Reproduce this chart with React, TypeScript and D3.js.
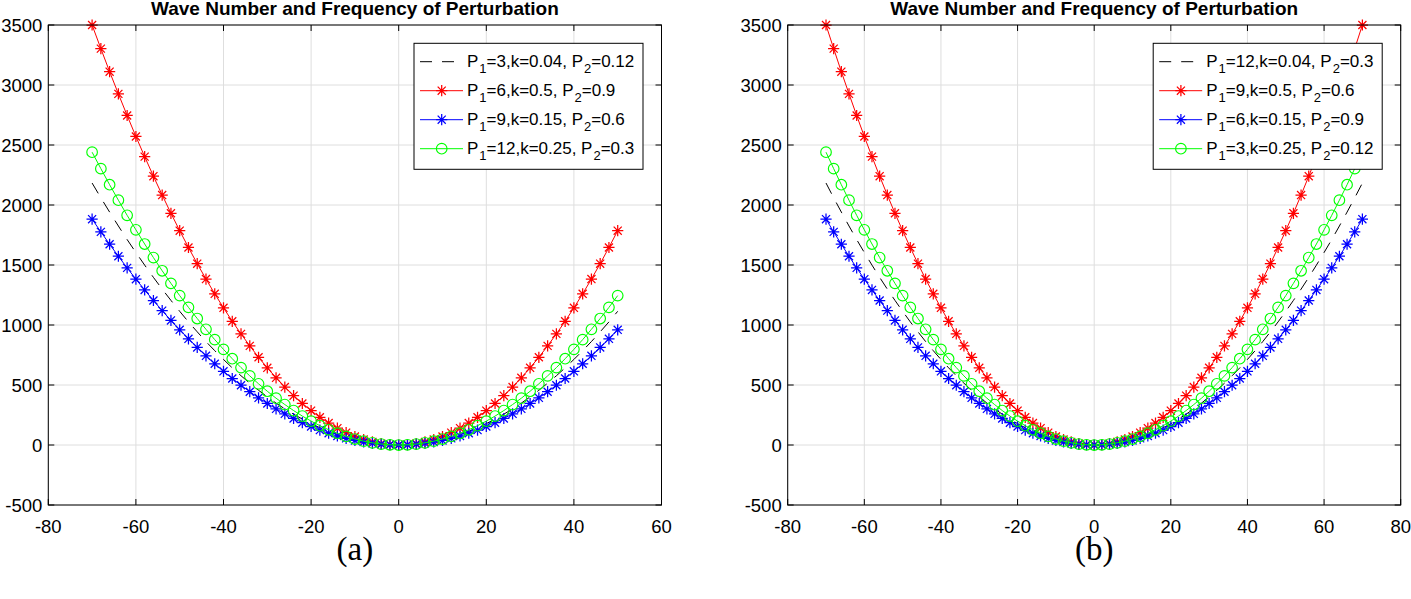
import React from "react";
import * as d3 from "d3";

// wave number k (x-axis)
const waveNumbers = [
  -70, -68, -66, -64, -62, -60, -58, -56, -54, -52, -50, -48, -46, -44, -42, -40, -38, -36,
  -34, -32, -30, -28, -26, -24, -22, -20, -18, -16, -14, -12, -10, -8, -6, -4, -2, 0,
  2, 4, 6, 8, 10, 12, 14, 16, 18, 20, 22, 24, 26, 28, 30, 32, 34, 36, 38, 40, 42, 44,
  46, 48, 50, 52, 54, 56, 58, 60, 62, 64, 66, 68, 70,
];

// frequency values
const blackSeries = [
  2183, 2060, 1941, 1825, 1712, 1604, 1499, 1397, 1299, 1205, 1114, 1026, 943, 862, 786, 713, 643, 577,
  515, 456, 401, 349, 301, 257, 216, 178, 144, 114, 87, 64, 45, 29, 16, 7, 2, 0,
  2, 7, 16, 29, 45, 64, 87, 114, 144, 178, 216, 257, 301, 349, 401, 456, 515, 577, 643, 713, 786, 862,
  943, 1026, 1114, 1205, 1299, 1397, 1499, 1604, 1712, 1825, 1941, 2060, 2183,
];
const redSeries = [
  3500, 3303, 3111, 2926, 2746, 2571, 2403, 2240, 2083, 1931, 1786, 1646, 1511, 1383, 1260, 1143, 1031, 926,
  826, 731, 643, 560, 483, 411, 346, 286, 231, 183, 140, 103, 71, 46, 26, 11, 3, 0,
  3, 11, 26, 46, 71, 103, 140, 183, 231, 286, 346, 411, 483, 560, 643, 731, 826, 926, 1031, 1143, 1260, 1383,
  1511, 1646, 1786, 1931, 2083, 2240, 2403, 2571, 2746, 2926, 3111, 3303, 3500,
];
const blueSeries = [
  1882, 1776, 1673, 1573, 1476, 1382, 1292, 1204, 1120, 1038, 960, 885, 813, 743, 677, 614, 554, 498,
  444, 393, 346, 301, 260, 221, 186, 154, 124, 98, 75, 55, 38, 25, 14, 6, 2, 0,
  2, 6, 14, 25, 38, 55, 75, 98, 124, 154, 186, 221, 260, 301, 346, 393, 444, 498, 554, 614, 677, 743,
  813, 885, 960, 1038, 1120, 1204, 1292, 1382, 1476, 1573, 1673, 1776, 1882,
];
const greenSeries = [
  2440, 2303, 2169, 2040, 1914, 1793, 1675, 1562, 1452, 1347, 1245, 1147, 1054, 964, 878, 797, 719, 645,
  576, 510, 448, 390, 337, 287, 241, 199, 161, 127, 98, 72, 50, 32, 18, 8, 2, 0,
  2, 8, 18, 32, 50, 72, 98, 127, 161, 199, 241, 287, 337, 390, 448, 510, 576, 645, 719, 797, 878, 964,
  1054, 1147, 1245, 1347, 1452, 1562, 1675, 1793, 1914, 2040, 2169, 2303, 2440,
];

const leftLegend = [
  ["3", "0.04", "0.12"],
  ["6", "0.5", "0.9"],
  ["9", "0.15", "0.6"],
  ["12", "0.25", "0.3"],
];
const rightLegend = [
  ["12", "0.04", "0.3"],
  ["9", "0.5", "0.6"],
  ["6", "0.15", "0.9"],
  ["3", "0.25", "0.12"],
];

const xTicksLeft = [-80, -60, -40, -20, 0, 20, 40, 60];
const xTicksRight = [-80, -60, -40, -20, 0, 20, 40, 60, 80];
const yTicks = [-500, 0, 500, 1000, 1500, 2000, 2500, 3000, 3500];

const titleText = "Wave Number and Frequency of Perturbation";

type Style = { color: string; marker: "none" | "star" | "circle"; dash?: string };
const styles: Style[] = [
  { color: "#000000", marker: "none", dash: "12,10" },
  { color: "#ff0000", marker: "star" },
  { color: "#0000ff", marker: "star" },
  { color: "#00ff00", marker: "circle" },
];
const seriesList = [blackSeries, redSeries, blueSeries, greenSeries];

const FONT = "'Liberation Sans', Arial, Helvetica, sans-serif";

function Marker({ type, x, y, color }: { type: string; x: number; y: number; color: string }) {
  if (type === "star") {
    const r = 5.6;
    const a = r * 0.72;
    const d = `M${x - r},${y}L${x + r},${y}M${x},${y - r}L${x},${y + r}M${x - a},${y - a}L${x + a},${y + a}M${x - a},${y + a}L${x + a},${y - a}`;
    return <path d={d} stroke={color} strokeWidth={1.25} fill="none" />;
  }
  if (type === "circle") {
    return <circle cx={x} cy={y} r={5.3} stroke={color} strokeWidth={1.15} fill="none" />;
  }
  return null;
}

function Panel({
  left, right, top, bottom, xDomain, xTicks, xMax, legend, label,
}: {
  left: number; right: number; top: number; bottom: number;
  xDomain: [number, number]; xTicks: number[]; xMax: number; legend: string[][]; label: string;
}) {
  const x = d3.scaleLinear().domain(xDomain).range([left, right]);
  const y = d3.scaleLinear().domain([-500, 3500]).range([bottom, top]);
  const idx = waveNumbers.map((k, i) => i).filter((i) => waveNumbers[i] <= xMax);
  const tick = 6;
  const lgW = 229;
  const lgH = 126;
  const lgX = right - 18.5 - lgW;
  const lgY = top + 18.3;
  const rowH = 29;
  return (
    <g>
      {xTicks.map((t) => (
        <line key={"gx" + t} x1={x(t)} x2={x(t)} y1={top} y2={bottom} stroke="#dedede" strokeWidth={1} />
      ))}
      {yTicks.map((t) => (
        <line key={"gy" + t} x1={left} x2={right} y1={y(t)} y2={y(t)} stroke="#dedede" strokeWidth={1} />
      ))}
      {seriesList.map((s, si) => {
        const st = styles[si];
        const path = d3
          .line<number>()
          .x((i) => x(waveNumbers[i]))
          .y((i) => y(s[i]))(idx) as string;
        return (
          <g key={"s" + si}>
            <path d={path} fill="none" stroke={st.color} strokeWidth={1} strokeDasharray={st.dash} />
            {st.marker !== "none" &&
              idx.map((i) => (
                <Marker key={i} type={st.marker} x={x(waveNumbers[i])} y={y(s[i])} color={st.color} />
              ))}
          </g>
        );
      })}
      <rect x={left} y={top} width={right - left} height={bottom - top} fill="none" stroke="#000" strokeWidth={1} />
      {xTicks.map((t) => (
        <g key={"tx" + t}>
          <line x1={x(t)} x2={x(t)} y1={bottom} y2={bottom - tick} stroke="#000" />
          <line x1={x(t)} x2={x(t)} y1={top} y2={top + tick} stroke="#000" />
          <text x={x(t)} y={bottom + 28} textAnchor="middle" fontFamily={FONT} fontSize={18.5} fill="#000">
            {t}
          </text>
        </g>
      ))}
      {yTicks.map((t) => (
        <g key={"ty" + t}>
          <line x1={left} x2={left + tick} y1={y(t)} y2={y(t)} stroke="#000" />
          <line x1={right} x2={right - tick} y1={y(t)} y2={y(t)} stroke="#000" />
          <text x={left - 6} y={y(t) + 6.5} textAnchor="end" fontFamily={FONT} fontSize={18.5} fill="#000">
            {t}
          </text>
        </g>
      ))}
      <text x={(left + right) / 2} y={14.5} textAnchor="middle" fontFamily={FONT} fontWeight="bold" fontSize={19} fill="#000">
        {titleText}
      </text>
      <rect x={lgX} y={lgY} width={lgW} height={lgH} fill="#fff" stroke="#000" strokeWidth={1} />
      {legend.map((row, ri) => {
        const cy = lgY + 18.4 + ri * rowH;
        const st = styles[ri];
        return (
          <g key={"lg" + ri}>
            <line x1={lgX + 6} x2={lgX + 49} y1={cy} y2={cy} stroke={st.color} strokeWidth={1} strokeDasharray={st.dash} />
            {st.marker !== "none" && <Marker type={st.marker} x={lgX + 27.7} y={cy} color={st.color} />}
            <text x={lgX + 53} y={cy + 5.5} fontFamily={FONT} fontSize={17} fill="#000">
              P
              <tspan dx={1} dy={5.5} fontSize={13}>1</tspan>
              <tspan dy={-5.5}>{`=${row[0]},k=${row[1]}, P`}</tspan>
              <tspan dx={1} dy={5.5} fontSize={13}>2</tspan>
              <tspan dy={-5.5}>{`=${row[2]}`}</tspan>
            </text>
          </g>
        );
      })}
      <text x={(left + right) / 2} y={560} textAnchor="middle" fontFamily="'Liberation Serif', 'Times New Roman', serif" fontSize={33} fill="#000">
        {label}
      </text>
    </g>
  );
}

export default function App() {
  return (
    <svg
      width={1411}
      height={599}
      style={{ position: "absolute", left: 0, top: 0, background: "#fff" }}
    >
      <rect x={0} y={0} width={1411} height={599} fill="#fff" />
      <Panel left={48.3} right={661.5} top={25} bottom={505} xDomain={[-80, 60]} xTicks={xTicksLeft} xMax={50} legend={leftLegend} label="(a)" />
      <Panel left={787.7} right={1400.7} top={25} bottom={505} xDomain={[-80, 80]} xTicks={xTicksRight} xMax={70} legend={rightLegend} label="(b)" />
    </svg>
  );
}
